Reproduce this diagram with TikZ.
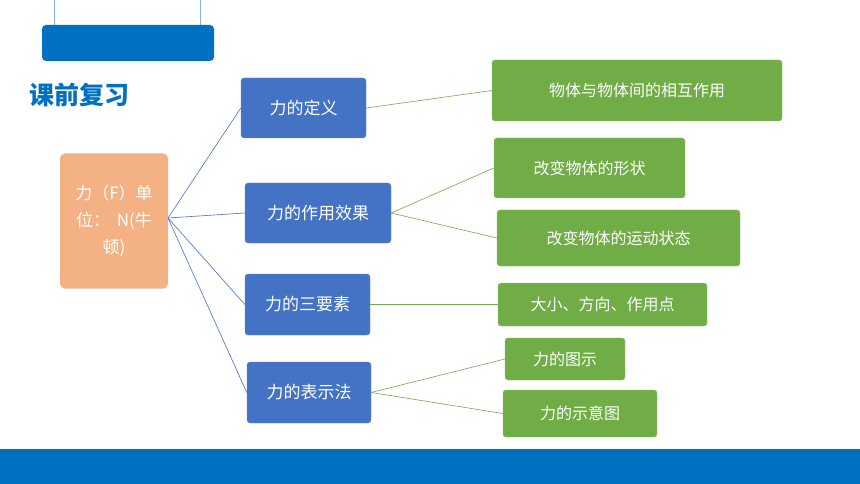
\documentclass[tikz,border=0pt]{standalone}
\usepackage{fontspec}
\setmainfont{Noto Sans CJK SC}
\newfontfamily\cjkb[BoldFont={Noto Sans CJK SC Bold}]{Noto Sans CJK SC}
\definecolor{mblue}{HTML}{0070C0}
\definecolor{nblue}{HTML}{4472C4}
\definecolor{ngreen}{HTML}{70AD47}
\definecolor{norange}{HTML}{F4B183}
\tikzset{
 bbox/.style={draw=nblue!80!white,fill=nblue,rounded corners=3pt,text=white,font=\fontsize{17}{20}\selectfont,inner sep=0pt},
 gbox/.style={draw=ngreen!80!white,fill=ngreen,rounded corners=3pt,text=white,font=\fontsize{16}{19}\selectfont,inner sep=0pt},
 bl/.style={draw=nblue,line width=0.6pt},
 gl/.style={draw=ngreen,line width=0.6pt}
}
\begin{document}
\begin{tikzpicture}[x=1pt,y=-1pt]
\useasboundingbox (0,0) rectangle (860,484);
\fill[white] (0,0) rectangle (860,484);
\draw[mblue!50,line width=0.8pt] (54,0) -- (54,26) (200,0) -- (200,26);
\fill[mblue,rounded corners=4pt] (42,25) rectangle (214,61);
\fill[mblue] (0,449) rectangle (860,484);
\node[anchor=west,text=mblue,font=\fontsize{25}{28}\selectfont\bfseries] (title) at (26,95) {课前复习};
\node[fill=norange,rounded corners=5pt,minimum width=108pt,minimum height=135pt,text=white,align=center,font=\fontsize{17}{27}\selectfont,inner sep=0pt] (f) at (114,221) {力（F）单\\位：\hspace{0.4em}N(牛\\顿)};
\node[bbox,minimum width=125pt,minimum height=60pt] (a) at (303.5,108) {力的定义};
\node[bbox,minimum width=146pt,minimum height=60pt] (b) at (318,213) {力的作用效果};
\node[bbox,minimum width=125pt,minimum height=61pt] (c) at (307.5,304.5) {力的三要素};
\node[bbox,minimum width=124pt,minimum height=61pt] (d) at (309,392.5) {力的表示法};
\node[gbox,minimum width=290pt,minimum height=61pt] (a1) at (637,90.5) {物体与物体间的相互作用};
\node[gbox,minimum width=191pt,minimum height=60pt] (b1) at (589.5,168) {改变物体的形状};
\node[gbox,minimum width=243pt,minimum height=56pt] (b2) at (618.5,238) {改变物体的运动状态};
\node[gbox,minimum width=209pt,minimum height=43pt] (c1) at (602.5,304.5) {大小、方向、作用点};
\node[gbox,minimum width=120pt,minimum height=42pt] (d1) at (565,359) {力的图示};
\node[gbox,minimum width=154pt,minimum height=47pt] (d2) at (580,413.5) {力的示意图};
\coordinate (fo) at (168,218);
\foreach \n in {a,b,c,d} \draw[bl] (fo) -- (\n.west);
\draw[gl] (a.east) -- (a1.west);
\draw[gl] (b.east) -- (b1.west);
\draw[gl] (b.east) -- (b2.west);
\draw[gl] (c.east) -- (c1.west);
\draw[gl] (d.east) -- (d1.west);
\draw[gl] (d.east) -- (d2.west);
\end{tikzpicture}
\end{document}
